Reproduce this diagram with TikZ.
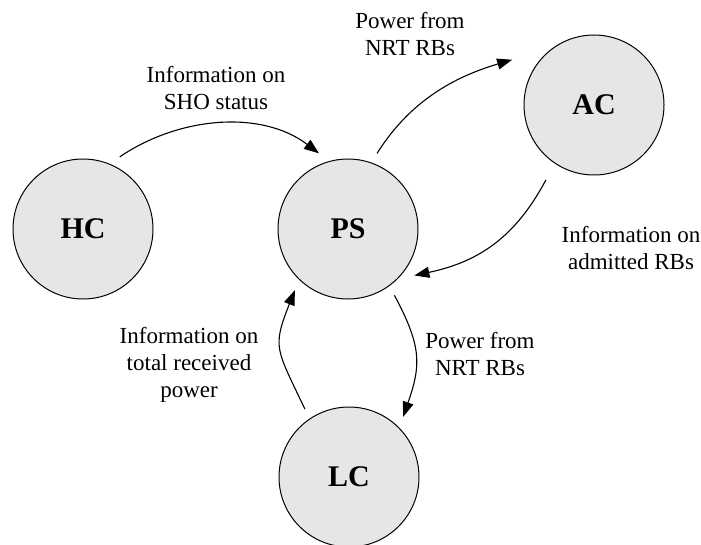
\documentclass[tikz,border=0pt]{standalone}
\usepackage{fontspec}
\setmainfont{Liberation Serif}
\usepackage{tikz}
\usetikzlibrary{arrows.meta}
\definecolor{ctrlfill}{HTML}{E6E6E6}

\begin{document}
\begin{tikzpicture}[
    x=1pt, y=-1pt,
    ctrl/.style={circle, draw, line width=1pt, fill=ctrlfill, minimum size=140pt,
                 inner sep=0pt, outer sep=11pt, font=\fontsize{30}{36}\selectfont\bfseries},
    info/.style={align=center, font=\fontsize{23}{27}\selectfont},
    arrow/.style={-{Triangle[length=15pt,width=11pt]}, line width=1.1pt}
]
\useasboundingbox (0,0) rectangle (701,545);

\node[ctrl] (hc) at (83,229) {HC};
\node[ctrl] (ps) at (348,229) {PS};
\node[ctrl] (ac) at (594,105) {AC};
\node[ctrl] (lc) at (349,477) {LC};

\node[info] (shoinfo) at (216,88) {Information on\\SHO status};
\node[info] (nrtup) at (410,34) {Power from\\NRT RBs};
\node[info] (rbinfo) at (631,248) {Information on\\admitted RBs};
\node[info] (nrtdown) at (480,354) {Power from\\NRT RBs};
\node[info] (pwrinfo) at (189,365) {Information on\\total received\\power};

\draw[arrow] (hc.63) .. controls (180,116) and (262,110) .. (ps.111);
\draw[arrow] (ps.69) .. controls (410,101) and (454,77) .. ([xshift=-11pt,yshift=6pt]ac.151);
\draw[arrow] ([xshift=-4pt,yshift=-7pt]ac.237) .. controls (515,238) and (478,262) .. (ps.325);
\draw[arrow] (ps.305) .. controls (422,347) and (421,365) .. (lc.48);
\draw[arrow] (lc.123) .. controls (276,348) and (272,348) .. (ps.229);
\end{tikzpicture}
\end{document}
